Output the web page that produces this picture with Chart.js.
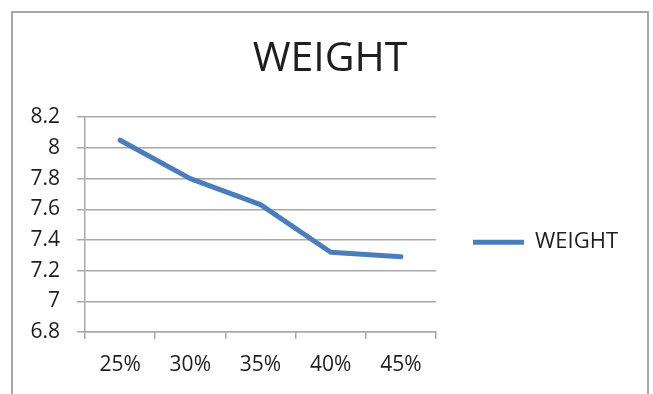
<!DOCTYPE html>
<html>
<head>
<meta charset="utf-8">
<script src="https://cdn.jsdelivr.net/npm/chart.js@4.4.1/dist/chart.umd.min.js"></script>
<style>
  html, body { margin: 0; padding: 0; background: #fff; overflow: hidden; }
  #wrap { position: relative; width: 653px; height: 394px; }
  #frame { position: absolute; left: 11px; top: 11px; width: 634px; height: 400px;
           border: 2px solid #a6a6a6; border-bottom: none; }
  canvas { position: absolute; left: 0; top: 0; }
</style>
</head>
<body>
<div id="wrap">
  <div id="frame"></div>
  <canvas id="chart" width="653" height="394"></canvas>
</div>
<script>
// Weight by percentage
const categories = ['25%', '30%', '35%', '40%', '45%'];
const weight = [8.05, 7.80, 7.63, 7.32, 7.29];
const yTickLabels = ['6.8', '7', '7.2', '7.4', '7.6', '7.8', '8', '8.2'];

const FONT = '"Open Sans", "Liberation Sans", sans-serif';
const GRID = '#a8a8a8';
const TEXT = '#1e1e1e';
const LEGEND_WIDTH = 217;

// Fixed-width legend column on the right; title centred on the framed panel;
// legend entry placed a little below the middle of the plot
const layoutTweaks = {
  id: 'layoutTweaks',
  afterInit(chart) {
    const lg = chart.legend;
    if (!lg) return;
    const fit = lg.fit;
    lg.fit = function () {
      fit.call(this);
      if (!this.isHorizontal()) this.width = LEGEND_WIDTH;
    };
  },
  beforeDraw(chart) {
    const lg = chart.legend;
    const ca = chart.chartArea;
    if (lg) { lg.top = ca.top; lg.bottom = ca.top + 250; }
    const tb = chart.titleBlock;
    if (tb) { tb.left = 7; }
  }
};

new Chart(document.getElementById('chart'), {
  type: 'line',
  data: {
    labels: categories,
    datasets: [{
      label: 'WEIGHT',
      data: weight,
      borderColor: '#4a7ebb',
      backgroundColor: '#4a7ebb',
      borderWidth: 5,
      borderCapStyle: 'round',
      borderJoinStyle: 'round',
      pointRadius: 0,
      pointHoverRadius: 0,
      tension: 0,
      fill: false
    }]
  },
  options: {
    responsive: false,
    animation: false,
    layout: { padding: { left: 0, right: 0, top: 12, bottom: 0 } },
    plugins: {
      title: {
        display: true,
        text: 'WEIGHT',
        color: TEXT,
        font: { family: FONT, size: 41, weight: 'normal' },
        padding: { top: 23, bottom: 33 }
      },
      legend: {
        display: true,
        position: 'right',
        maxWidth: 400,
        labels: {
          usePointStyle: true,
          pointStyle: 'line',
          pointStyleWidth: 51,
          padding: 37,
          color: TEXT,
          font: { family: FONT, size: 22 }
        }
      },
      tooltip: { enabled: false }
    },
    scales: {
      x: {
        type: 'category',
        offset: true,
        grid: { offset: true, drawOnChartArea: false, drawTicks: true, tickLength: 7, color: GRID, lineWidth: 1.5 },
        border: { display: true, color: GRID, width: 1.5 },
        ticks: { color: TEXT, padding: 13, maxRotation: 0, font: { family: FONT, size: 21 } },
        afterFit(s) { s.height = 62; }
      },
      y: {
        min: 6.8,
        max: 8.2,
        grid: { color: GRID, lineWidth: 1.5, tickLength: 8 },
        border: { display: true, color: GRID, width: 1.5 },
        ticks: {
          color: TEXT, padding: 17, font: { family: FONT, size: 21 },
          callback: (v, i) => yTickLabels[i]
        },
        afterBuildTicks(s) { s.ticks = yTickLabels.map(t => ({ value: parseFloat(t) })); },
        afterFit(s) { s.width = 85; }
      }
    }
  },
  plugins: [layoutTweaks]
});
</script>
</body>
</html>
